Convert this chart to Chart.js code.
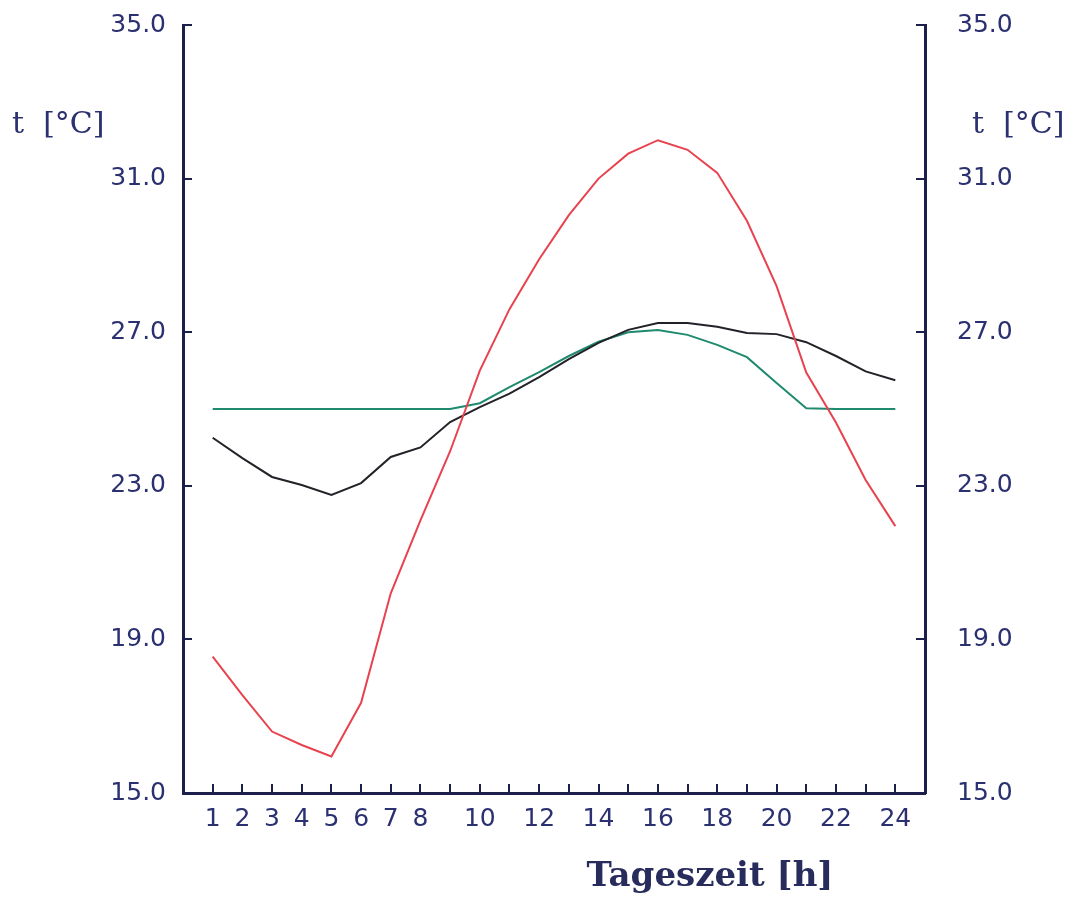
<!DOCTYPE html>
<html>
<head>
<meta charset="utf-8">
<script src="https://cdn.jsdelivr.net/npm/chart.js@4/dist/chart.umd.min.js"></script>
<style>
  html, body { margin: 0; padding: 0; background: #fff; }
  #wrap { width: 1080px; height: 898px; }
</style>
</head>
<body>
<div id="wrap"><canvas id="tempChart"></canvas></div>
<script>
// hours of the day
const hours = [1,2,3,4,5,6,7,8,9,10,11,12,13,14,15,16,17,18,19,20,21,22,23,24];
// red curve
const redTemps = [18.55, 17.55, 16.6, 16.25, 15.95, 17.35, 20.2, 22.1, 23.9, 26.0, 27.6, 28.9,
                  30.05, 31.0, 31.65, 32.0, 31.75, 31.15, 29.9, 28.2, 25.95, 24.65, 23.15, 21.95];
// black curve
const blackTemps = [24.25, 23.72, 23.23, 23.02, 22.76, 23.07, 23.75, 24.0, 24.66, 25.05, 25.4, 25.83,
                    26.3, 26.72, 27.06, 27.24, 27.24, 27.14, 26.98, 26.95, 26.74, 26.38, 25.98, 25.75];
// green curve
const greenTemps = [25.0, 25.0, 25.0, 25.0, 25.0, 25.0, 25.0, 25.0, 25.0, 25.15, 25.57, 25.96,
                    26.38, 26.75, 27.0, 27.06, 26.93, 26.67, 26.35, 25.68, 25.02, 25.0, 25.0, 25.0];
// hour labels that get printed
const shownHours = [1,2,3,4,5,6,7,8,10,12,14,16,18,20,22,24];
const yTicks = [15, 19, 23, 27, 31, 35];

const axisColor = '#1c1f4a';
const textColor = '#2b3070';

function toPoints(vals) {
  return vals.map((v, i) => ({ x: hours[i], y: v }));
}

// fixed box sizes so the plot lands where the original one is
function fitY(width) {
  return function (scale) {
    scale.width = width;
    scale.paddingTop = 0;
    scale.paddingBottom = 0;
  };
}

const titles = {
  id: 'titles',
  afterDraw(chart) {
    const ctx = chart.ctx;
    const area = chart.chartArea;
    ctx.save();
    ctx.fillStyle = textColor;
    ctx.textBaseline = 'middle';
    ctx.font = '30px "DejaVu Serif"';
    ctx.textAlign = 'left';
    ctx.fillText('t  [°C]', 12, area.top + 100);
    ctx.fillText('t  [°C]', area.right + 47, area.top + 100);
    ctx.font = 'bold 34px "DejaVu Serif"';
    ctx.textAlign = 'center';
    ctx.fillStyle = '#282c5c';
    ctx.fillText('Tageszeit [h]', 710, 877);
    ctx.restore();
  }
};

const ctx = document.getElementById('tempChart').getContext('2d');
new Chart(ctx, {
  type: 'line',
  data: {
    datasets: [
      { data: toPoints(redTemps), borderColor: '#e8424f', borderWidth: 2, pointRadius: 0, tension: 0 },
      { data: toPoints(blackTemps), borderColor: '#222228', borderWidth: 2, pointRadius: 0, tension: 0 },
      { data: toPoints(greenTemps), borderColor: '#1f8a6e', borderWidth: 2, pointRadius: 0, tension: 0 }
    ]
  },
  options: {
    responsive: true,
    maintainAspectRatio: false,
    animation: false,
    layout: { padding: { top: 25, left: 0, right: 0, bottom: 0 } },
    plugins: { legend: { display: false }, tooltip: { enabled: false } },
    scales: {
      x: {
        type: 'linear',
        min: 0,
        max: 25,
        afterFit(scale) { scale.height = 105; scale.paddingLeft = 0; scale.paddingRight = 0; },
        border: { display: true, color: axisColor, width: 3 },
        grid: { drawOnChartArea: false, drawTicks: true, tickLength: -9, color: axisColor, lineWidth: 2 },
        ticks: {
          stepSize: 1,
          autoSkip: false,
          maxRotation: 0,
          padding: 20,
          color: textColor,
          font: { family: 'DejaVu Sans', size: 25 },
          callback: (v) => shownHours.includes(v) ? String(v) : ''
        }
      },
      y: {
        position: 'left',
        min: 15,
        max: 35,
        afterFit: fitY(183),
        afterBuildTicks(scale) { scale.ticks = yTicks.map(v => ({ value: v })); },
        border: { display: true, color: axisColor, width: 3 },
        grid: { drawOnChartArea: false, drawTicks: true, tickLength: -9, color: axisColor, lineWidth: 2 },
        ticks: {
          padding: 26,
          color: textColor,
          font: { family: 'DejaVu Sans', size: 25 },
          callback: (v) => v.toFixed(1)
        }
      },
      y2: {
        position: 'right',
        min: 15,
        max: 35,
        afterFit: fitY(155),
        afterBuildTicks(scale) { scale.ticks = yTicks.map(v => ({ value: v })); },
        border: { display: true, color: axisColor, width: 3 },
        grid: { drawOnChartArea: false, drawTicks: true, tickLength: -9, color: axisColor, lineWidth: 2 },
        ticks: {
          padding: 41,
          color: textColor,
          font: { family: 'DejaVu Sans', size: 25 },
          callback: (v) => v.toFixed(1)
        }
      }
    }
  },
  plugins: [titles]
});
</script>
</body>
</html>
